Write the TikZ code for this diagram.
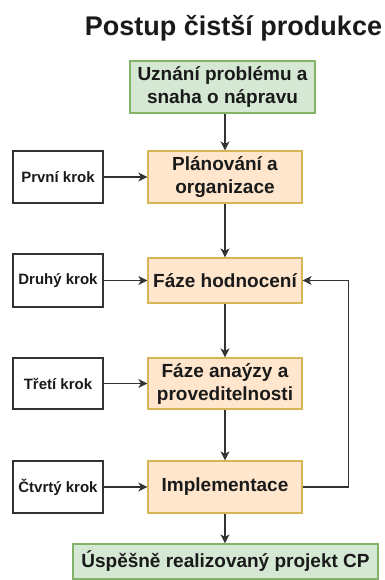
\documentclass[tikz,border=0pt]{standalone}
\usepackage{fontspec}
\setmainfont{Liberation Sans}
\usetikzlibrary{arrows.meta,positioning}
\definecolor{ofill}{HTML}{FFE6CC}
\definecolor{odraw}{HTML}{D6B656}
\definecolor{gfill}{HTML}{D5E8D4}
\definecolor{gdraw}{HTML}{82B366}
\definecolor{ink}{HTML}{1A1A1A}
\definecolor{lin}{HTML}{333333}
\tikzset{
  box/.style={draw, line width=1.2pt, inner sep=0pt, align=center, font=\bfseries\fontsize{19}{23}\selectfont, text=ink},
  obox/.style={box, fill=ofill, draw=odraw, minimum width=154pt},
  gbox/.style={box, fill=gfill, draw=gdraw},
  wbox/.style={box, draw=lin, fill=white, minimum width=90pt, font=\bfseries\fontsize{15}{18}\selectfont},
  arr/.style={draw=lin, line width=1.3pt, -{Stealth[length=9pt,width=9pt,inset=2.5pt]}}
}
\begin{document}
\begin{tikzpicture}[x=1pt,y=-1pt]
\useasboundingbox[fill=white] (0,0) rectangle (384,580);
\node[anchor=base, font=\bfseries\fontsize{27}{32}\selectfont, text=ink] (title) at (233.5,36) {Postup čistší produkce};
\node[gbox, minimum width=185pt, minimum height=52pt] (top) at (222.5,87) {Uznání problému a\\snaha o nápravu};
\node[obox, minimum height=52pt] (plan) at (225,177) {Plánování a\\organizace};
\node[obox, minimum height=45pt] (hod) at (225,280.5) {Fáze hodnocení};
\node[obox, minimum height=51pt] (anal) at (225,383.5) {Fáze anaýzy a\\proveditelnosti};
\node[obox, minimum height=52pt] (impl) at (225,487) {Implementace};
\node[gbox, minimum width=305pt, minimum height=35pt] (end) at (225.5,561.5) {Úspěšně realizovaný projekt CP};
\node[wbox, minimum height=52pt] (k1) at (58,177) {První krok};
\node[wbox, minimum height=53pt] (k2) at (58,280.5) {Druhý krok};
\node[wbox, minimum height=51pt] (k3) at (58,383.5) {Třetí krok};
\node[wbox, minimum height=52pt] (k4) at (58,487) {Čtvrtý krok};
\draw[arr] (plan.north |- top.south) -- (plan.north);
\draw[arr] (plan) -- (hod);
\draw[arr] (hod) -- (anal);
\draw[arr] (anal) -- (impl);
\draw[arr] (impl.south) -- (impl.south |- end.north);
\draw[arr] (k1) -- (plan);
\draw[arr] (k2) -- (hod);
\draw[arr] (k3) -- (anal);
\draw[arr] (k4) -- (impl);
\draw[arr] (impl.east) -- ++(46,0) |- (hod.east);
\end{tikzpicture}
\end{document}
